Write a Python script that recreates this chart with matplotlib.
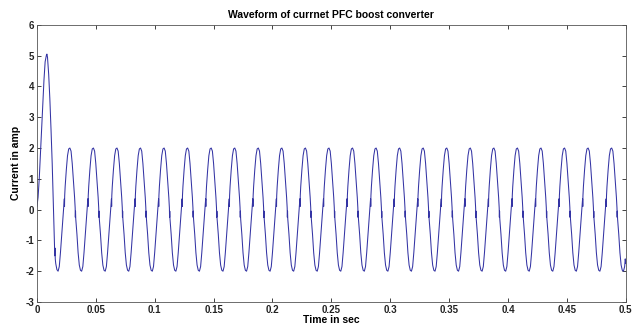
import numpy as np
import matplotlib
matplotlib.use('Agg')
import matplotlib.pyplot as plt

# start-up transient (time in ms, current in A)
start_t = [0, 1, 2, 3, 4, 5, 6, 7, 8, 8.5, 9, 10, 11, 12, 13, 14, 15, 15.2, 15.4, 15.6, 16, 17, 18]
start_i = [0.1, 0.4, 1.0, 1.8, 2.6, 3.4, 4.2, 4.8, 5.0, 5.05, 4.95, 4.4, 3.6, 2.6, 1.5, 0.1, -1.2, -1.5, -1.25, -1.6, -1.75, -1.95, -2.0]

# one steady-state cycle, starting at a trough (phase in ms, current in A)
cycle_t = [0, 1, 2, 3, 4, 5, 5.3, 5.45, 5.6, 6, 7, 8, 9, 10, 11, 12, 13, 14,
           14.5, 14.65, 14.8, 15, 16, 17, 18, 19]
cycle_i = [-2.0, -1.85, -1.4, -0.85, -0.3, 0.2, 0.35, 0.1, 0.45, 0.75, 1.3, 1.75, 1.97, 2.0, 1.9, 1.5, 0.95, 0.4,
           0.05, -0.25, -0.05, -0.3, -0.8, -1.4, -1.8, -1.97]

n_cycles = 24
period_ms = 20
end_t = [498, 499, 499.5, 500]
end_i = [-2.0, -1.85, -1.6, -1.75]

t = list(start_t)
i = list(start_i)
for k in range(n_cycles):
    t0 = start_t[-1] + k * period_ms
    t += [t0 + p for p in cycle_t]
    i += cycle_i
t += end_t
i += end_i

t = np.array(t) / 1000.0
i = np.array(i)

plt.rcParams['font.family'] = ['Liberation Sans', 'DejaVu Sans']
plt.rcParams['font.weight'] = 'bold'
plt.rcParams['axes.unicode_minus'] = False

fig = plt.figure(figsize=(6.36, 3.27), dpi=100)
ax = fig.add_axes([0.058, 0.0765, 0.926, 0.8475])
ax.plot(t, i, color='#3434a4', linewidth=0.75)

ax.set_xlim(0, 0.5)
ax.set_ylim(-3, 6)
ax.set_xticks([0, 0.05, 0.1, 0.15, 0.2, 0.25, 0.3, 0.35, 0.4, 0.45, 0.5])
ax.set_xticklabels(['0', '0.05', '0.1', '0.15', '0.2', '0.25', '0.3', '0.35', '0.4', '0.45', '0.5'])
ax.set_yticks(range(-3, 7))
ax.tick_params(direction='in', length=3, width=0.6, top=True, right=True,
               labelsize=7, pad=2, colors='#222222')
for s in ax.spines.values():
    s.set_linewidth(0.6)
    s.set_color('#555555')

ax.set_title('Waveform of currnet PFC boost converter', fontsize=7.5, fontweight='bold', pad=5)
ax.set_xlabel('Time in sec', fontsize=7.5, fontweight='bold', labelpad=0)
ax.set_ylabel('Current in amp', fontsize=7.5, fontweight='bold', labelpad=3)

fig.savefig('out.png', dpi=100, facecolor='white')
